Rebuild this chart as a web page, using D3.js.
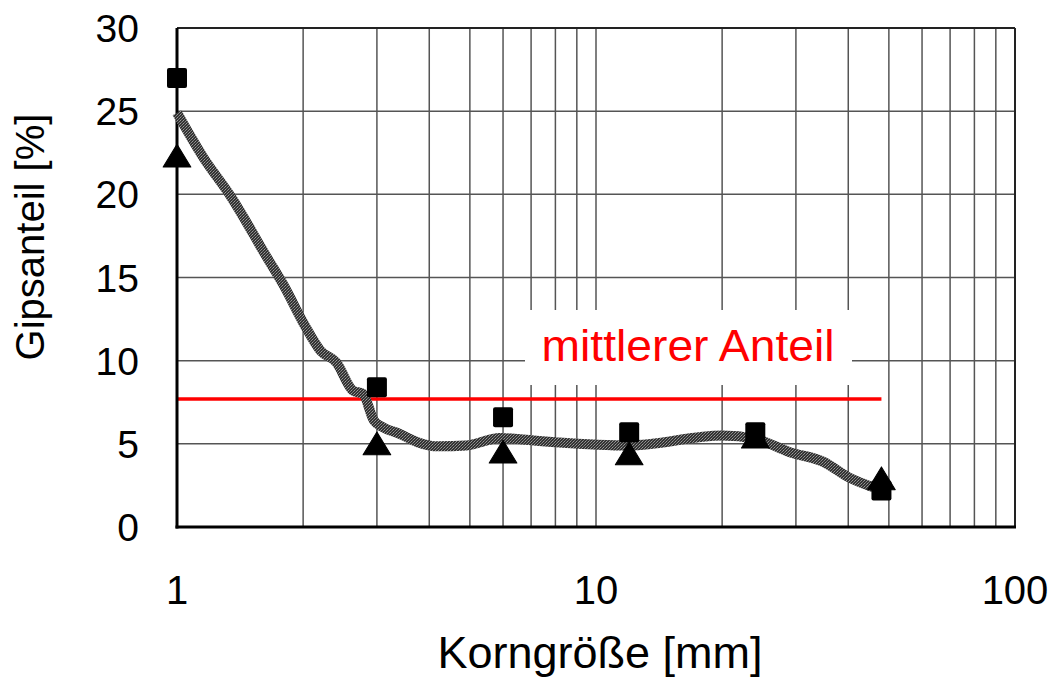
<!DOCTYPE html>
<head>
  <meta charset="utf-8">
  <title>Gipsanteil</title>
  <script src="https://d3js.org/d3.v7.min.js"></script>
  <style>
  body {margin: 0; background: white;}
  text {font-family: "Liberation Sans", Arial, sans-serif;}
  .grid line {stroke: #555; stroke-width: 1.5px;}
  </style>
</head>
<body>
  <svg id="chart" width="1057" height="677"></svg>
  <script>
  // measured values
  var sizes = [1, 3, 6, 12, 24, 48];
  var squareVals = [27, 8.4, 6.6, 5.7, 5.7, 2.2];
  var triangleVals = [22.1, 4.8, 4.3, 4.2, 5.2, 2.7];
  var trendX = [1, 1.15, 1.35, 1.64, 1.8, 2.02, 2.2, 2.4, 2.63, 2.78, 2.95, 3.1, 3.4, 3.75, 4.2, 4.9, 5.9, 7.1, 8, 12, 20, 24, 29, 35, 40, 47];
  var trendY = [24.9, 22.3, 19.8, 16.2, 14.5, 12.1, 10.6, 9.9, 8.2, 8.0, 6.4, 6.0, 5.6, 5.1, 4.85, 4.9, 5.35, 5.2, 5.1, 4.9, 5.5, 5.3, 4.5, 3.9, 3.0, 2.3];
  var meanValue = 7.7;
  var meanRange = [1, 48];
  var yTicks = [0, 5, 10, 15, 20, 25, 30];
  var xTicks = [1, 10, 100];

  var svg = d3.select("#chart");
  var plotLeft = 177, plotRight = 1015, plotTop = 28, plotBottom = 527;

  var x = d3.scaleLog().domain([1, 100]).range([plotLeft, plotRight]);
  var y = d3.scaleLinear().domain([0, 30]).range([plotBottom, plotTop]);

  // hatched pattern for the trend line
  var defs = svg.append("defs");
  var pat = defs.append("pattern").attr("id", "hatch")
    .attr("patternUnits", "userSpaceOnUse").attr("width", 3).attr("height", 3);
  pat.append("rect").attr("width", 3).attr("height", 3).attr("fill", "#333");
  pat.append("rect").attr("x", 0).attr("y", 0).attr("width", 1).attr("height", 1).attr("fill", "#999");
  pat.append("rect").attr("x", 2).attr("y", 1).attr("width", 1).attr("height", 1).attr("fill", "#888");
  pat.append("rect").attr("x", 1).attr("y", 2).attr("width", 1).attr("height", 1).attr("fill", "#777");

  // grid
  var grid = svg.append("g").attr("class", "grid");
  var minor = [];
  [1, 10].forEach(function(d) {
    for (var i = 2; i <= 10; i++) minor.push(d * i);
  });
  grid.selectAll("line.v").data(minor).enter().append("line")
    .attr("x1", function(d) { return x(d); }).attr("x2", function(d) { return x(d); })
    .attr("y1", plotTop).attr("y2", plotBottom);
  grid.selectAll("line.h").data(yTicks.slice(1)).enter().append("line")
    .attr("x1", plotLeft).attr("x2", plotRight)
    .attr("y1", function(d) { return y(d); }).attr("y2", function(d) { return y(d); });

  // frame
  svg.append("line").attr("x1", plotLeft).attr("x2", plotRight).attr("y1", plotTop).attr("y2", plotTop)
    .attr("stroke", "#222").attr("stroke-width", 2);
  svg.append("line").attr("x1", plotRight).attr("x2", plotRight).attr("y1", plotTop).attr("y2", plotBottom)
    .attr("stroke", "#222").attr("stroke-width", 2);

  // label box
  svg.append("rect").attr("x", 525).attr("y", 310).attr("width", 327).attr("height", 75)
    .attr("fill", "white");
  svg.append("text")
    .attr("transform", "translate(688,361) scale(1,1.12)")
    .attr("text-anchor", "middle")
    .attr("font-size", 40).attr("fill", "#ff0000")
    .attr("textLength", 293).attr("lengthAdjust", "spacingAndGlyphs")
    .text("mittlerer Anteil");

  // mean line
  svg.append("line")
    .attr("x1", x(meanRange[0])).attr("x2", x(meanRange[1]))
    .attr("y1", y(meanValue)).attr("y2", y(meanValue))
    .attr("stroke", "#ff0000").attr("stroke-width", 3.5);

  // axes
  svg.append("line").attr("x1", plotLeft).attr("x2", plotLeft).attr("y1", plotTop).attr("y2", plotBottom + 1.5)
    .attr("stroke", "black").attr("stroke-width", 3);
  svg.append("line").attr("x1", plotLeft - 1.5).attr("x2", plotRight + 1).attr("y1", plotBottom).attr("y2", plotBottom)
    .attr("stroke", "black").attr("stroke-width", 3);

  // trend line
  var trend = trendX.map(function(d, i) { return [d, trendY[i]]; });
  var lineGen = d3.line()
    .x(function(d) { return x(d[0]); })
    .y(function(d) { return y(d[1]); })
    .curve(d3.curveMonotoneX);
  svg.append("path").datum(trend)
    .attr("d", lineGen)
    .attr("fill", "none")
    .attr("stroke", "url(#hatch)")
    .attr("stroke-width", 10)
    .attr("stroke-linejoin", "bevel");

  // markers
  svg.selectAll("rect.sq").data(sizes).enter().append("rect")
    .attr("class", "sq")
    .attr("x", function(d) { return x(d) - 10; })
    .attr("y", function(d, i) { return y(squareVals[i]) - 10; })
    .attr("width", 20).attr("height", 20).attr("rx", 2)
    .attr("fill", "black");

  var tri = d3.symbol().type(d3.symbolTriangle).size(300);
  svg.selectAll("path.tri").data(sizes).enter().append("path")
    .attr("class", "tri")
    .attr("d", tri)
    .attr("transform", function(d, i) { return "translate(" + x(d) + "," + y(triangleVals[i]) + ") scale(1.05,1)"; })
    .attr("fill", "black")
    .attr("stroke", "black").attr("stroke-width", 1).attr("stroke-linejoin", "round");

  // tick labels
  svg.selectAll("text.ytick").data(yTicks).enter().append("text")
    .attr("class", "ytick")
    .attr("x", 139).attr("y", function(d) { return y(d); })
    .attr("dy", "0.36em")
    .attr("text-anchor", "end")
    .attr("font-size", 39)
    .text(function(d) { return d; });

  svg.selectAll("text.xtick").data(xTicks).enter().append("text")
    .attr("class", "xtick")
    .attr("x", function(d) { return x(d); }).attr("y", 590)
    .attr("dy", "0.36em")
    .attr("text-anchor", "middle")
    .attr("font-size", 40)
    .text(function(d) { return d; });

  // axis titles
  svg.append("text")
    .attr("transform", "translate(44,237) rotate(-90)")
    .attr("text-anchor", "middle")
    .attr("font-size", 40)
    .text("Gipsanteil [%]");

  svg.append("text")
    .attr("x", 600).attr("y", 668)
    .attr("text-anchor", "middle")
    .attr("font-size", 45)
    .text("Korngröße [mm]");
  </script>
</body>
